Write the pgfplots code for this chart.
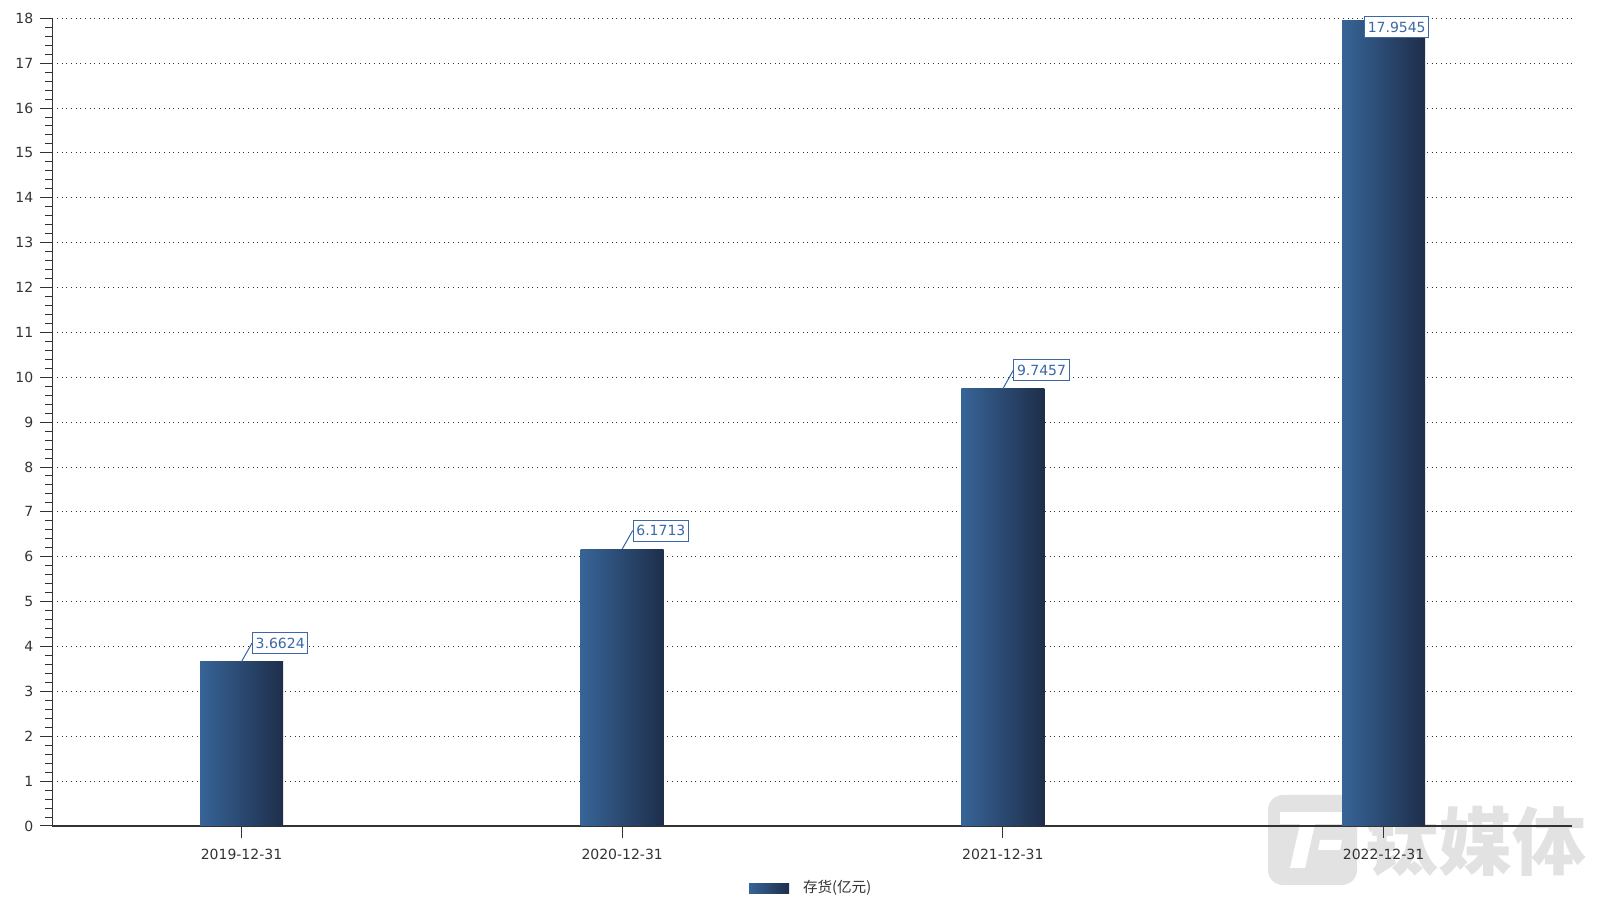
\documentclass[border=0pt]{standalone}
\usepackage{fontspec}
\setmainfont{DejaVu Sans}
\newfontfamily\cjk{Noto Sans CJK SC}
\usepackage{pgfplots}
\pgfplotsset{compat=1.18}
\definecolor{barL}{HTML}{376497}
\definecolor{barR}{HTML}{1E2E4A}
\definecolor{lblue}{HTML}{3A68A8}
\definecolor{axisc}{HTML}{333333}
\definecolor{wm}{HTML}{E2E2E2}

\tikzset{
  valbox/.style={draw=lblue, fill=white, text=lblue, line width=0.5pt,
    inner xsep=1.6pt, inner ysep=2.7pt, text height=5.1pt, text depth=0pt,
    font=\fontsize{7pt}{8pt}\selectfont},
}
\pgfplotsset{
  barA/.style={draw=none, left color=barL, right color=barR,
    every node near coord/.append style={anchor=west, xshift=5.25pt, yshift=9.25pt, valbox,
      append after command={(\tikzlastnode.west) edge[lblue, line width=0.5pt] ++(-5.25pt,-9.25pt)}}},
  barB/.style={draw=none, left color=barL, right color=barR,
    every node near coord/.append style={anchor=west, xshift=-9.75pt, yshift=-3.5pt, valbox}},
}

\begin{document}
\begin{tikzpicture}
\useasboundingbox (-26.15pt,-44pt) rectangle (780.85pt,413pt);
% watermark (behind the chart)
\fill[wm, rounded corners=7.5pt] (607.85pt,-29.5pt) rectangle (652.35pt,15.5pt);
\fill[white] (613.85pt,7pt) rectangle (646.35pt,1pt);
\fill[white] (623.85pt,1pt) -- (631.35pt,1pt) -- (626.35pt,-21pt) -- (618.85pt,-21pt) -- cycle;
\fill[white] (633.85pt,-7pt) -- (644.85pt,-7pt) -- (643.85pt,-12pt) -- (632.85pt,-12pt) -- cycle;
\node[text=wm, font=\cjk\bfseries\fontsize{37pt}{40pt}\selectfont, inner sep=0pt] at (711.6pt,-7.75pt) {钛媒体};

\begin{axis}[
  at={(0pt,0pt)}, anchor=south west,
  scale only axis, width=759.85pt, height=403.85pt,
  xmin=-0.497, xmax=3.495, ymin=0, ymax=18,
  axis lines=left,
  axis line style={axisc, line width=0.6pt, -},
  xtick={0,1,2,3},
  xticklabels={2019-12-31,2020-12-31,2021-12-31,2022-12-31},
  ytick={0,1,...,18},
  minor y tick num=4,
  tick align=outside,
  major tick length=6pt, minor tick length=3.5pt,
  tick style={axisc, line width=0.5pt},
  ymajorgrids,
  major grid style={axisc, line width=0.5pt, dash pattern=on 0.5pt off 1.83pt},
  ticklabel style={font=\fontsize{7pt}{8pt}\selectfont, text=axisc},
  xticklabel style={yshift=-2pt},
  /pgf/number format/assume math mode=true,
  ybar, bar width=41.5pt, bar shift=0pt,
  point meta=explicit symbolic,
  nodes near coords,
  legend style={at={(0.5,-0.077)}, anchor=center, draw=none, fill=none,
    font=\cjk\fontsize{7.3pt}{8pt}\selectfont, text=axisc},
  legend image code/.code={\fill[left color=barL, right color=barR] (0pt,-2.5pt) rectangle (20pt,2.5pt);
    \path (0pt,0pt) -- (25pt,0pt);},
]
\addplot[barA] coordinates {(0,3.6624) [3.6624]};
\addlegendentry{存货(亿元)}
\addplot[barA, forget plot] coordinates {(1,6.1713) [6.1713]};
\addplot[barA, forget plot] coordinates {(2,9.7457) [9.7457]};
\addplot[barB, forget plot] coordinates {(3,17.9545) [17.9545]};
\end{axis}
\end{tikzpicture}
\end{document}
